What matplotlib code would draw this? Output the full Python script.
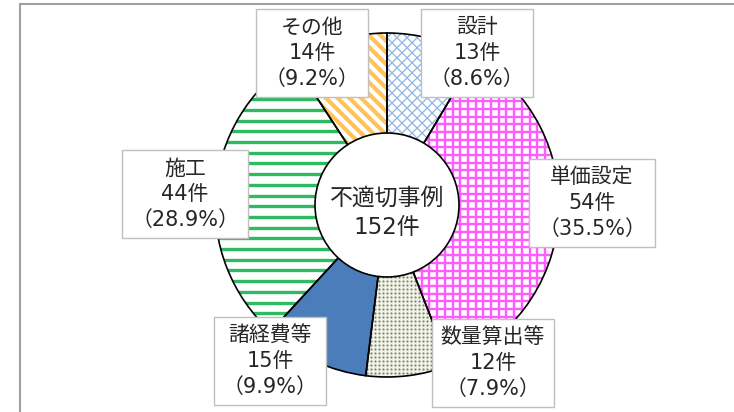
import numpy as np
import matplotlib
matplotlib.use('Agg')
import matplotlib.pyplot as plt
import matplotlib.patches as mpatches
from matplotlib.collections import LineCollection

# 数字は幅の広い DejaVu、漢字・かなは Noto Sans CJK JP
plt.rcParams['font.family'] = ['DejaVu Sans', 'Noto Sans CJK JP']

# データ（12時の位置から時計回り）
labels = ['設計', '単価設定', '数量算出等', '諸経費等', '施工', 'その他']
counts = [13, 54, 12, 15, 44, 14]
center_title = '不適切事例'
total = sum(counts)

W, H = 734, 412
fig = plt.figure(figsize=(W / 100, H / 100), dpi=100)
ax = fig.add_axes([0, 0, 1, 1])

# 円の中心と半径（ピクセル単位, y は上向き）
cx, cy, R = 387, H - 205, 172
r_in = 72

bg = ['white', 'white', '#F1F2E8', '#4A7DBA', 'white', 'white']
wedges, _ = ax.pie(counts, startangle=90, counterclock=False, radius=R,
                   center=(cx, cy), colors=bg, wedgeprops=dict(linewidth=0))


def stripes(wedge, angle_deg, step, color, lw):
    # wedge の中だけに平行線を引く
    t = np.deg2rad(angle_deg)
    d = np.array([np.cos(t), np.sin(t)])
    n = np.array([-d[1], d[0]])
    segs = []
    for o in np.arange(-1.5 * R, 1.5 * R, step):
        p = np.array([cx, cy]) + o * n
        segs.append([p - 2 * R * d, p + 2 * R * d])
    lc = LineCollection(segs, colors=color, linewidths=lw, zorder=2)
    ax.add_collection(lc, autolim=False)
    lc.set_clip_path(wedge)


# 設計: 斜め格子
stripes(wedges[0], 45, 7.1, '#8DB4E2', 0.9)
stripes(wedges[0], -45, 7.1, '#8DB4E2', 0.9)
# 単価設定: 格子
stripes(wedges[1], 0, 7.7, '#FF5CFF', 1.7)
stripes(wedges[1], 90, 7.7, '#FF5CFF', 1.7)
# 数量算出等: ドット
gx, gy = np.meshgrid(np.arange(cx - R, cx + R, 4.0), np.arange(cy - R, cy + R, 4.0))
sc = ax.scatter(gx.ravel(), gy.ravel(), s=2.4, c='#76865A', linewidths=0, zorder=2)
sc.set_clip_path(wedges[2])
# 施工: 横線
stripes(wedges[4], 0, 10.7, '#2DBB62', 2.4)
# その他: 斜線
stripes(wedges[5], -45, 8.3, '#FFC35A', 3.0)

# 輪郭線
for w in wedges:
    ax.add_patch(mpatches.Wedge((cx, cy), R, w.theta1, w.theta2, fill=False,
                                ec='black', lw=1.2, zorder=3))

ax.add_patch(mpatches.Circle((cx, cy), r_in, fc='white', ec='black', lw=1.2, zorder=4))
ax.text(cx, H - 213, f'{center_title}\n{total}件', ha='center', va='center',
        fontsize=16.5, linespacing=1.35, color='#262626', zorder=5)

# ラベル位置（ピクセル, y は下向き）
label_pos = [(477, 53), (592, 203), (493, 363), (270, 361), (185, 194), (312, 53)]
for lab, c, (x, y) in zip(labels, counts, label_pos):
    ax.text(x, H - y, f'{lab}\n{c}件\n（{c / total * 100:.1f}%）',
            ha='center', va='center', fontsize=15, linespacing=1.35,
            color='#262626', zorder=6,
            bbox=dict(boxstyle='square,pad=0.42', fc='white', ec='#BFBFBF', lw=1))

# 外枠
ax.plot([20, 20], [0, H - 4], color='#A0A0A0', lw=1.5, zorder=1)
ax.plot([20, W], [H - 4, H - 4], color='#A0A0A0', lw=1.5, zorder=1)

ax.set_xlim(0, W)
ax.set_ylim(0, H)
ax.axis('off')

fig.savefig('out.png', dpi=100)
